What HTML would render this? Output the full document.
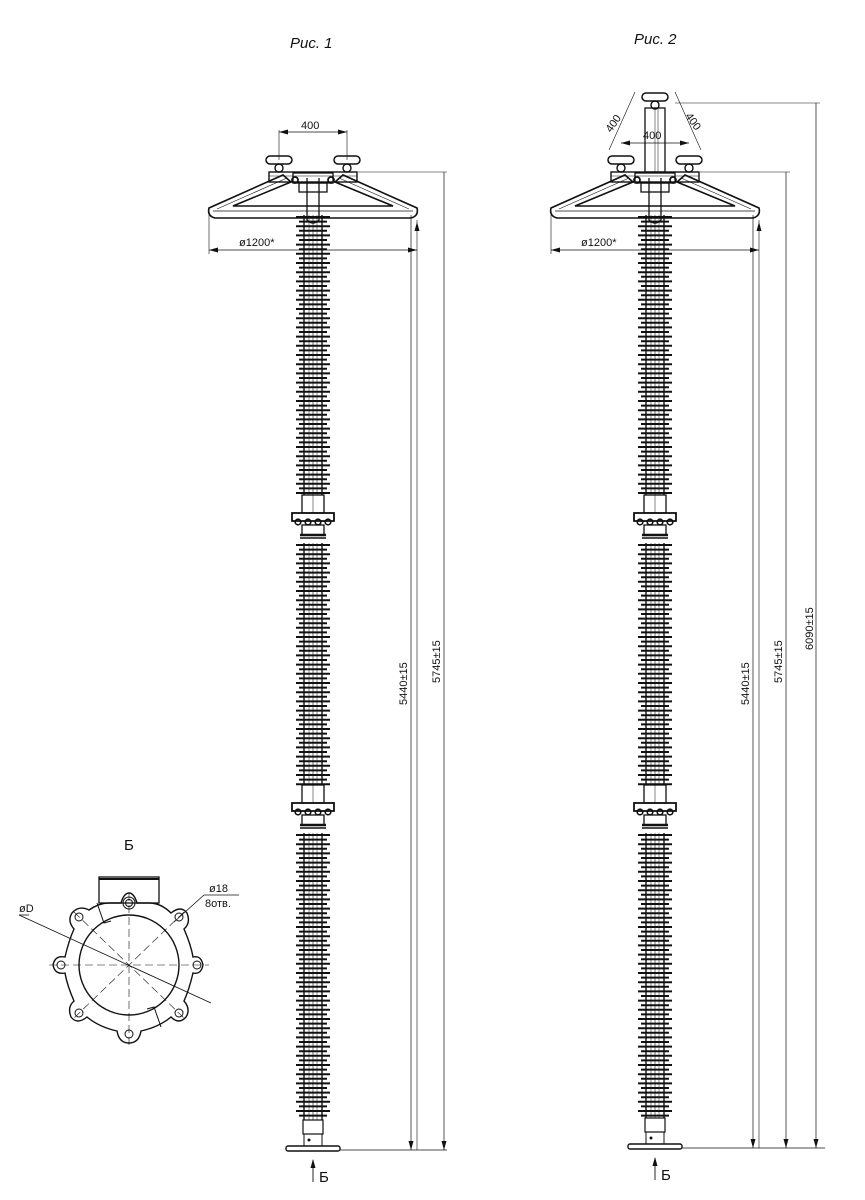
<!DOCTYPE html>
<html><head><meta charset="utf-8"><style>
html,body{margin:0;padding:0;background:#fff;}
svg{display:block;}
text{font-family:"Liberation Sans","DejaVu Sans",sans-serif;fill:#111;}
</style></head><body>
<svg id="s" width="865" height="1200" viewBox="0 0 865 1200" xmlns="http://www.w3.org/2000/svg" stroke="#111" fill="none" stroke-width="1">
<text x="290" y="48" font-size="15" font-style="italic" stroke="none">Рис. 1</text>
<text x="634" y="44" font-size="15" font-style="italic" stroke="none">Рис. 2</text>
<g id="g"></g>
<g transform="translate(129,965)">
<text x="-5" y="-115" font-size="15" stroke="none">Б</text>
<rect x="-30" y="-88" width="60" height="26" stroke-width="1.3"/>
<line x1="-30" y1="-86" x2="30" y2="-86" stroke-width="2"/>
<path d="M-40,-55 Q-30,-62 -20,-62 L-8,-62 Q-5,-72 0,-72 Q5,-72 8,-62 L20,-62 Q32,-62 42,-52
 Q52,-60 58,-52 Q62,-42 55,-36 Q62,-20 64,-8 Q72,-10 74,0 Q72,10 64,8 Q60,25 55,36 Q62,44 57,52 Q50,60 42,52
 Q30,62 12,66 Q10,78 0,78 Q-10,78 -12,66 Q-30,62 -42,52 Q-52,60 -58,52 Q-62,42 -55,36 Q-62,20 -64,8 Q-74,10 -76,0 Q-74,-10 -64,-8 Q-60,-25 -55,-36 Q-62,-44 -57,-52 Q-50,-60 -40,-55Z" stroke-width="1.4"/>
<circle r="50" stroke-width="1.4"/>
<circle cx="0" cy="-62" r="6"/><circle cx="0" cy="-62" r="3.5"/>
<circle cx="0" cy="69" r="4"/><circle cx="-68" cy="0" r="4"/><circle cx="68" cy="0" r="4"/>
<circle cx="-50" cy="-48" r="4"/><circle cx="50" cy="-48" r="4"/><circle cx="-50" cy="48" r="4"/><circle cx="50" cy="48" r="4"/>
<path d="M-32,-62 L-25,-42 L-18,-44" /><path d="M32,62 L25,42 L18,44"/>
<g stroke-dasharray="8,4" stroke-width="0.6">
<line x1="-80" y1="0" x2="80" y2="0"/><line x1="0" y1="-72" x2="0" y2="80"/>
<line x1="-55" y1="-53" x2="55" y2="53"/><line x1="55" y1="-53" x2="-55" y2="53"/>
</g>
<line x1="-110" y1="-50" x2="82" y2="38" stroke-width="0.8"/>
<line x1="-110" y1="-50" x2="-100" y2="-50" stroke-width="0.8"/>
<text x="-110" y="-53" font-size="11" stroke="none">øD</text>
<line x1="45" y1="-43" x2="75" y2="-70" stroke-width="0.8"/>
<line x1="75" y1="-70" x2="110" y2="-70" stroke-width="0.8"/>
<text x="80" y="-73" font-size="11" stroke="none">ø18</text>
<text x="76" y="-58" font-size="11" stroke="none">8отв.</text>
</g>
</svg>
<script>
var g=document.getElementById('g');var h='';
function L(a,b,c,d,w){h+='<line x1="'+a+'" y1="'+b+'" x2="'+c+'" y2="'+d+'" stroke-width="'+(w||1)+'"/>';}
function R(x,y,w,hh,sw){h+='<rect x="'+x+'" y="'+y+'" width="'+w+'" height="'+hh+'" stroke-width="'+(sw||1)+'"/>';}
function T(x,y,t,rot,fs){h+='<text x="'+x+'" y="'+y+'" font-size="'+(fs||11)+'" stroke="none"'+(rot?' transform="rotate('+rot+' '+x+' '+y+')"':'')+'>'+t+'</text>';}
function arrow(x,y,dir){
 var p;if(dir=='d')p=[x,y,x-2.5,y-9,x+2.5,y-9];else if(dir=='u')p=[x,y,x-2.5,y+9,x+2.5,y+9];else if(dir=='l')p=[x,y,x+9,y-2.5,x+9,y+2.5];else p=[x,y,x-9,y-2.5,x-9,y+2.5];
 h+='<polygon points="'+p.join(',')+'" fill="#111" stroke="none"/>';}
function sheds(cx,y0,y1){
 L(cx-9,y0,cx-9,y1,1.4);L(cx+9,y0,cx+9,y1,1.4);L(cx,y0,cx,y1,0.6);L(cx-4,y0,cx-4,y1,0.5);L(cx+4,y0,cx+4,y1,0.5);
 var i=0;for(var y=y0+2;y<y1;y+=4.6){var w=(i%2==0)?17:14;L(cx-w,y,cx+w,y,2);i++;}
}
function flange(cx,y){
 R(cx-11,y-22,22,18,1.3);L(cx,y-22,cx,y-4,0.5);
 R(cx-21,y-4,42,8,1.8);
 for(var k=-15;k<=15;k+=10){h+='<circle cx="'+(cx+k)+'" cy="'+(y+5)+'" r="2.8" stroke-width="1.6"/>';}
 R(cx-11,y+8,22,10,1.3);L(cx-13,y+18,cx+13,y+18,2.4);L(cx-13,y+21,cx+13,y+21,1.4);
}
function insulator(cx,top,bot){
 sheds(cx,top,top+280);
 flange(cx,top+302);
 sheds(cx,top+328,top+570);
 flange(cx,top+592);
 sheds(cx,top+618,bot-30);
 R(cx-10,bot-30,20,14,1.2);R(cx-9,bot-16,18,12,1);
 h+='<circle cx="'+(cx-4)+'" cy="'+(bot-10)+'" r="1" fill="#111"/>';
 h+='<rect x="'+(cx-27)+'" y="'+(bot-4)+'" width="54" height="5" rx="2" stroke-width="1.4"/>';
 L(cx,bot+10,cx,bot+32,0.9);arrow(cx,bot+9,'u');T(cx+6,bot+32,'Б',0,15);
}
function ring(cx,y){
 h+='<path d="M'+(cx-104)+','+(y)+' Q'+(cx-106)+','+(y+8)+' '+(cx-98)+','+(y+10)+' L'+(cx+98)+','+(y+10)+' Q'+(cx+106)+','+(y+8)+' '+(cx+104)+','+(y)+' L'+(cx+30)+','+(y-33)+' L'+(cx+22)+','+(y-26)+' L'+(cx+80)+','+(y-2)+' L'+(cx-80)+','+(y-2)+' L'+(cx-22)+','+(y-26)+' L'+(cx-30)+','+(y-33)+' Z" stroke-width="1.6"/>';
 L(cx-96,y+1,cx-26,y-30,0.6);L(cx+96,y+1,cx+26,y-30,0.6);L(cx-100,y+3,cx+100,y+3,0.7);
 R(cx-20,y-35,40,10,1.3);R(cx-14,y-25,28,9,1.3);
 h+='<path d="M'+(cx-6)+','+(y-30)+' L'+(cx-6)+','+(y+12)+' Q'+cx+','+(y+18)+' '+(cx+6)+','+(y+12)+' L'+(cx+6)+','+(y-30)+'" stroke-width="1.3"/>';
 h+='<circle cx="'+(cx-18)+'" cy="'+(y-28)+'" r="3" stroke-width="1.8"/><circle cx="'+(cx+18)+'" cy="'+(y-28)+'" r="3" stroke-width="1.8"/>';
}
function clamp(x,y){
 h+='<rect x="'+(x-13)+'" y="'+y+'" width="26" height="8" rx="4" stroke-width="1.5"/>';
 h+='<circle cx="'+x+'" cy="'+(y+12)+'" r="4" stroke-width="1.4"/>';
}
var c1=313;
insulator(c1,215,1150);
ring(c1,208);
R(c1-44,172,88,10,1.4);L(c1-44,176,c1+44,176,0.5);clamp(c1-34,156);clamp(c1+34,156);
L(c1-34,130,c1-34,160,0.6);L(c1+34,130,c1+34,160,0.6);L(c1-34,132,c1+34,132,0.7);arrow(c1-34,132,'l');arrow(c1+34,132,'r');T(c1-12,129,'400');
L(c1-104,215,c1-104,254,0.6);L(c1+104,220,c1+104,1150,0.6);arrow(c1+104,222,'u');
L(c1-104,250,c1+104,250,0.7);arrow(c1-104,250,'l');arrow(c1+104,250,'r');T(c1-74,246,'ø1200*');
L(c1+45,172,447,172,0.6);L(c1+27,1150,447,1150,0.8);
L(411,215,411,1150,0.7);arrow(411,1150,'d');L(444,172,444,1150,0.7);arrow(444,1150,'d');
T(407,705,'5440±15',-90);T(440,683,'5745±15',-90);
var c2=655;
insulator(c2,215,1148);
ring(c2,208);
R(c2-44,172,88,10,1.4);L(c2-44,176,c2+44,176,0.5);clamp(c2-34,156);clamp(c2+34,156);
R(c2-10,108,20,64,1.3);L(c2,108,c2,172,0.5);L(c2+3,108,c2+3,172,0.5);clamp(c2,93);
L(c2-34,143,c2+34,143,0.7);arrow(c2-34,143,'l');arrow(c2+34,143,'r');T(c2-12,139,'400');
L(c2-20,92,c2-46,150,0.6);L(c2+20,92,c2+46,150,0.6);
T(c2-44,133,'400',-55);T(c2+30,116,'400',55);
L(c2-104,215,c2-104,254,0.6);L(c2+104,220,c2+104,1148,0.6);arrow(c2+104,222,'u');
L(c2-104,250,c2+104,250,0.7);arrow(c2-104,250,'l');arrow(c2+104,250,'r');T(c2-74,246,'ø1200*');
L(c2+45,172,790,172,0.6);L(c2+20,103,820,103,0.6);L(c2+27,1148,825,1148,0.8);
L(753,215,753,1148,0.7);arrow(753,1148,'d');L(786,172,786,1148,0.7);arrow(786,1148,'d');L(816,103,816,1148,0.7);arrow(816,1148,'d');
T(749,705,'5440±15',-90);T(782,683,'5745±15',-90);T(813,650,'6090±15',-90);
g.innerHTML=h;
</script>
</body></html>
